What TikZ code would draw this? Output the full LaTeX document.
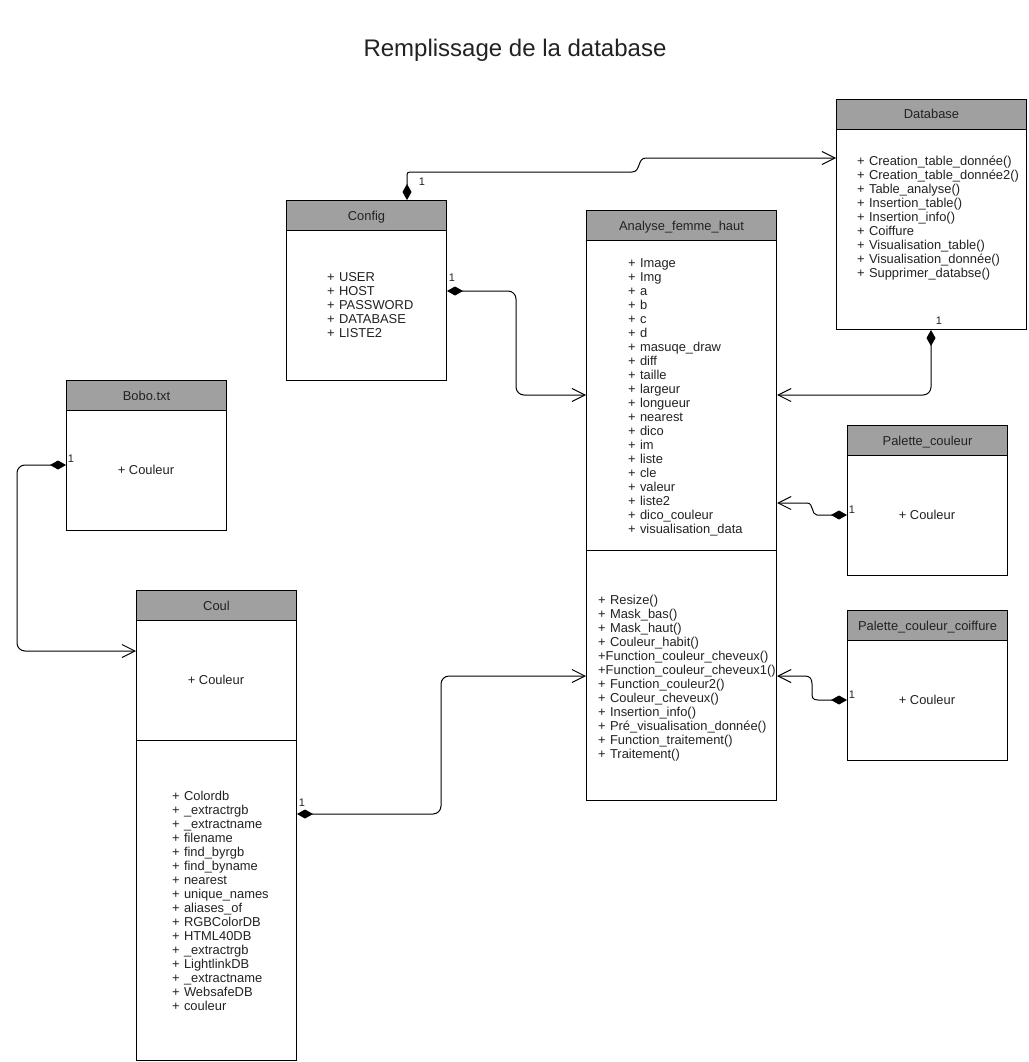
\documentclass[tikz,border=0pt]{standalone}
\usepackage{fontspec}
\setmainfont{Liberation Sans}
\usetikzlibrary{arrows.meta}
\definecolor{hdrgray}{RGB}{160,160,160}
\definecolor{txtgray}{RGB}{34,34,34}
\begin{document}
\begin{tikzpicture}[x=1pt,y=-1pt,
  box/.style={draw, line width=1pt, fill=white, anchor=north west, inner sep=0pt},
  hdrbox/.style={draw, line width=1pt, fill=hdrgray, anchor=north west, inner sep=0pt,
     minimum height=30pt, text height=10pt, text depth=1pt, text=txtgray,
     font=\fontsize{12.9}{14}\selectfont},
  listtxt/.style={anchor=north west, inner sep=0pt, align=left, text width=220pt, text=txtgray,
     font=\fontsize{12.9}{14}\selectfont},
  onetxt/.style={inner sep=0pt, text=txtgray, font=\fontsize{12.9}{14}\selectfont},
  mult/.style={inner sep=0pt, text=txtgray, font=\fontsize{11}{13}\selectfont},
  conn/.style={line width=1pt, {Diamond[length=16pt,width=9pt]}-{Straight Barb[length=13pt,width=13pt]}},
]
\useasboundingbox (0,0) rectangle (1028,1062);
\fill[white] (0,0) rectangle (1028,1062);

% title
\node[inner sep=0pt, text=txtgray, font=\fontsize{24}{28}\selectfont] (title) at (515,50) {Remplissage de la database};

% Database
\node[box, minimum width=190pt, minimum height=230pt] (db) at (836,99) {};
\node[hdrbox, minimum width=190pt] (dbh) at (836,99) {Database};
\node[listtxt] (dbl) at (857,155.5) {+ Creation\_table\_donnée()\\+ Creation\_table\_donnée2()\\+ Table\_analyse()\\+ Insertion\_table()\\+ Insertion\_info()\\+ Coiffure\\+ Visualisation\_table()\\+ Visualisation\_donnée()\\+ Supprimer\_databse()};

% Config
\node[box, minimum width=160pt, minimum height=180pt] (cfg) at (286,200) {};
\node[hdrbox, minimum width=160pt] (cfgh) at (286,200) {Config};
\node[listtxt] (cfgl) at (327,272.5) {+ USER\\+ HOST\\+ PASSWORD\\+ DATABASE\\+ LISTE2};

% Analyse_femme_haut
\node[box, minimum width=190pt, minimum height=590pt] (an) at (586,210) {};
\draw[line width=1pt] (586,550) -- (776,550);
\node[hdrbox, minimum width=190pt] (anh) at (586,210) {Analyse\_femme\_haut};
\node[listtxt] (anl) at (628,258.5) {+ Image\\+ Img\\+ a\\+ b\\+ c\\+ d\\+ masuqe\_draw\\+ diff\\+ taille\\+ largeur\\+ longueur\\+ nearest\\+ dico\\+ im\\+ liste\\+ cle\\+ valeur\\+ liste2\\+ dico\_couleur\\+ visualisation\_data};
\node[listtxt] (anm) at (598,594.5) {+ Resize()\\+ Mask\_bas()\\+ Mask\_haut()\\+ Couleur\_habit()\\+Function\_couleur\_cheveux()\\+Function\_couleur\_cheveux1()\\+ Function\_couleur2()\\+ Couleur\_cheveux()\\+ Insertion\_info()\\+ Pré\_visualisation\_donnée()\\+ Function\_traitement()\\+ Traitement()};

% Bobo.txt
\node[box, minimum width=160pt, minimum height=150pt] (bobo) at (66,380) {};
\node[hdrbox, minimum width=160pt] (boboh) at (66,380) {Bobo.txt};
\node[onetxt] (bobot) at (146,470) {+ Couleur};

% Coul
\node[box, minimum width=160pt, minimum height=470pt] (coul) at (136,590) {};
\draw[line width=1pt] (136,740) -- (296,740);
\node[hdrbox, minimum width=160pt] (coulh) at (136,590) {Coul};
\node[onetxt] (coult) at (216,680) {+ Couleur};
\node[listtxt] (coull) at (172,790.5) {+ Colordb\\+ \_extractrgb\\+ \_extractname\\+ filename\\+ find\_byrgb\\+ find\_byname\\+ nearest\\+ unique\_names\\+ aliases\_of\\+ RGBColorDB\\+ HTML40DB\\+ \_extractrgb\\+ LightlinkDB\\+ \_extractname\\+ WebsafeDB\\+ couleur};

% Palette_couleur
\node[box, minimum width=160pt, minimum height=150pt] (pc) at (847,425) {};
\node[hdrbox, minimum width=160pt] (pch) at (847,425) {Palette\_couleur};
\node[onetxt] (pct) at (927,515) {+ Couleur};

% Palette_couleur_coiffure
\node[box, minimum width=160pt, minimum height=150pt] (pcc) at (847,610) {};
\node[hdrbox, minimum width=160pt] (pcch) at (847,610) {Palette\_couleur\_coiffure};
\node[onetxt] (pcct) at (927,700) {+ Couleur};

% connector end points
\coordinate (c1s) at (cfg.north -| 407,0);
\coordinate (c1e) at (db.west |- 0,158);
\coordinate (c2s) at (cfg.east |- 0,291);
\coordinate (c2e) at (an.west |- 0,395);
\coordinate (c3s) at (db.south -| 931,0);
\coordinate (c3e) at (an.east |- 0,395);
\coordinate (c4s) at (pc.west |- 0,515);
\coordinate (c4e) at (an.east |- 0,503);
\coordinate (c5s) at (pcc.west |- 0,700);
\coordinate (c5e) at (an.east |- 0,676);
\coordinate (c6s) at (bobo.west |- 0,465);
\coordinate (c6e) at (coul.west |- 0,651);
\coordinate (c7s) at (coul.east |- 0,814);
\coordinate (c7e) at (an.west |- 0,676);

% connectors
\draw[conn] (c1s) -- (407,178) .. controls (407,172) .. (413,172) -- (632,172) .. controls (641,172) and (637,158) .. (646,158) -- (c1e);
\draw[conn, rounded corners=8pt] (c2s) -- (516,291) -- (516,395) -- (c2e);
\draw[conn, rounded corners=8pt] (c3s) -- (931,395) -- (c3e);
\draw[conn] (c4s) -- (817,515) .. controls (811,515) and (814,503) .. (807,503) -- (c4e);
\draw[conn] (c5s) -- (818,700) .. controls (812,700) and (812,697) .. (812,692) -- (812,684) .. controls (812,679) and (810,676) .. (805,676) -- (c5e);
\draw[conn, rounded corners=8pt] (c6s) -- (17,465) -- (17,651) -- (c6e);
\draw[conn, rounded corners=8pt] (c7s) -- (441,814) -- (441,676) -- (c7e);

% multiplicity labels
\node[mult] (m1) at (422,182) {1};
\node[mult] (m2) at (452,278) {1};
\node[mult] (m3) at (939,321) {1};
\node[mult] (m4) at (852,510) {1};
\node[mult] (m5) at (852,695) {1};
\node[mult] (m6) at (71,459) {1};
\node[mult] (m7) at (302,803) {1};
\end{tikzpicture}
\end{document}
